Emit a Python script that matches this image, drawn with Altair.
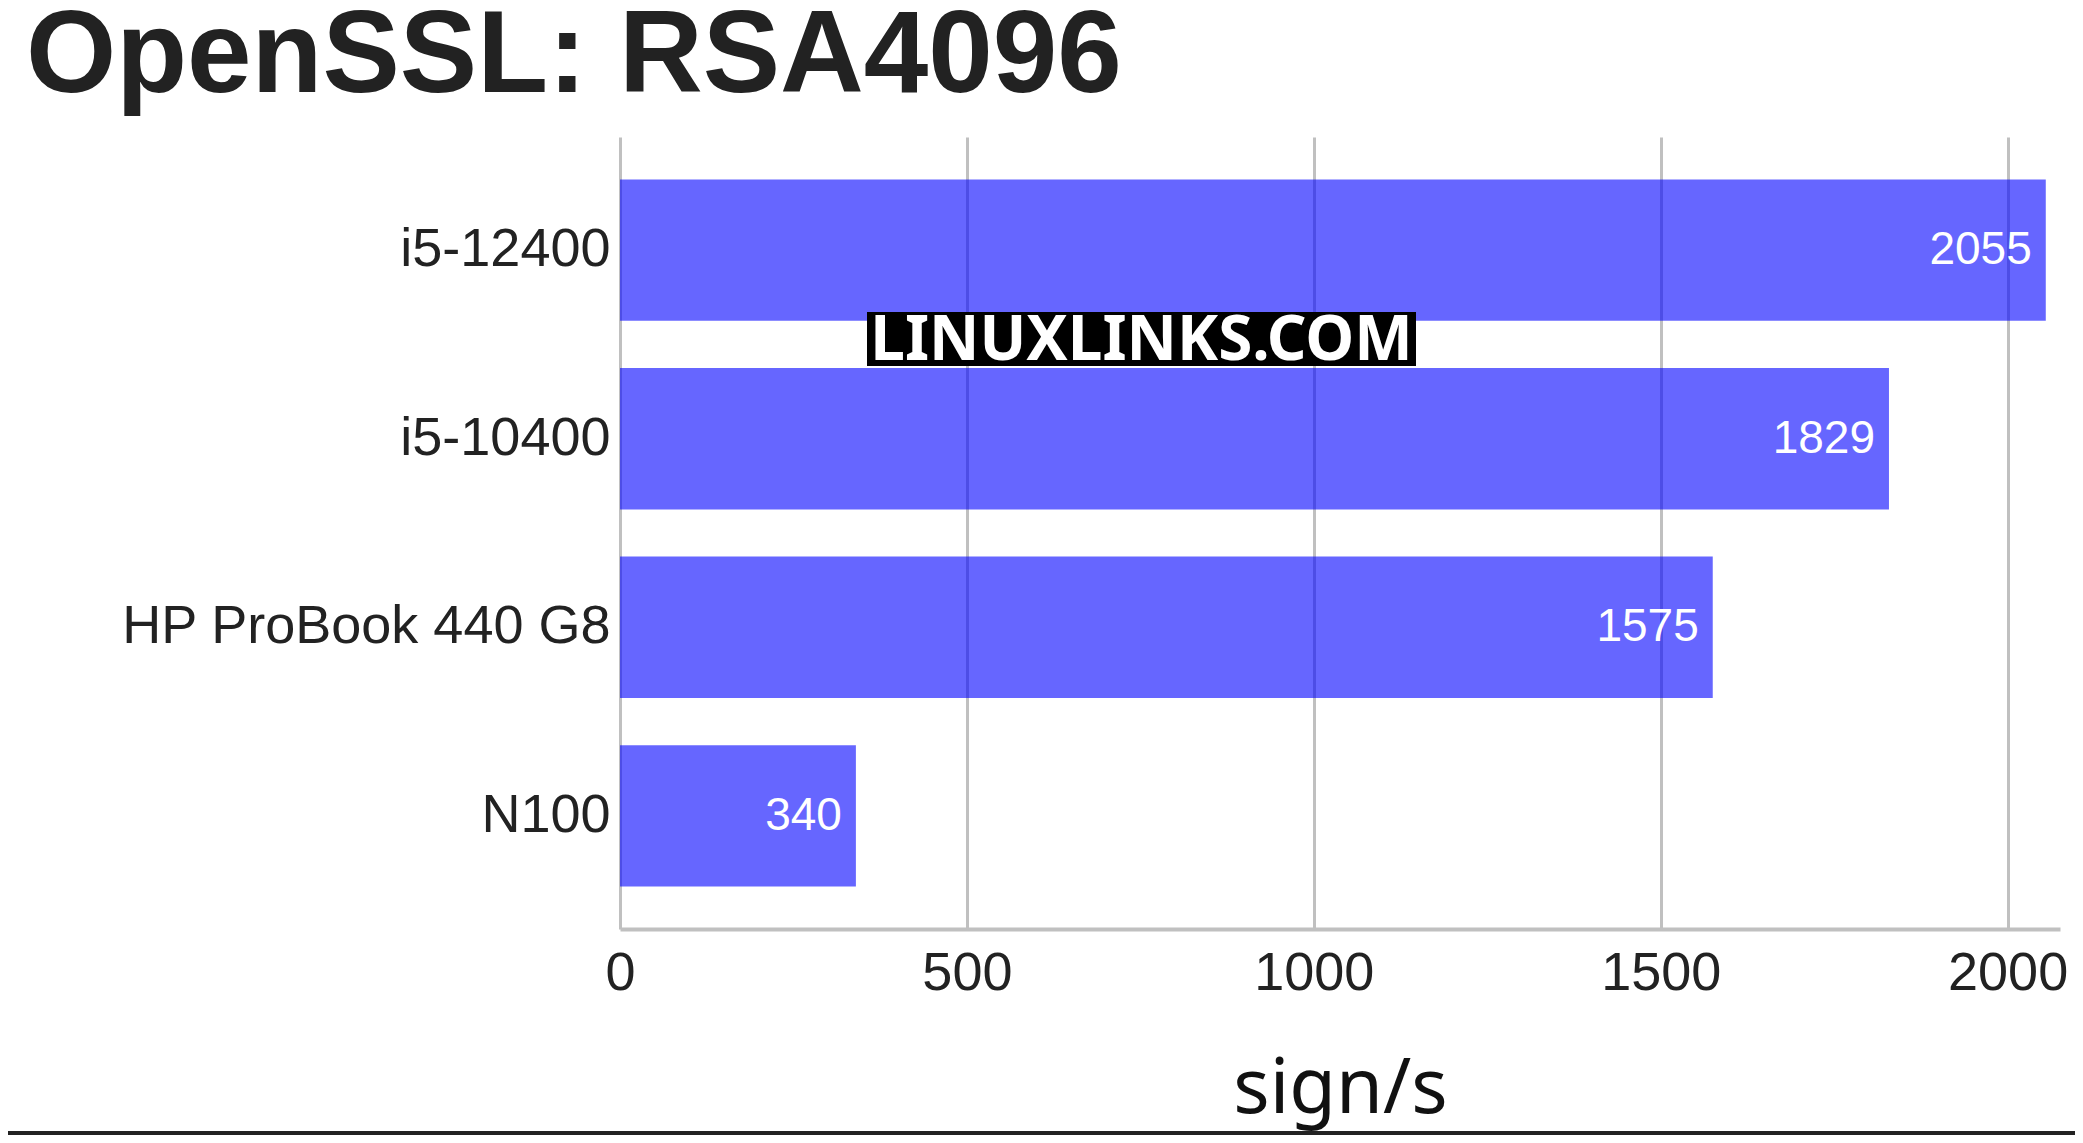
import altair as alt
import pandas as pd

# ---- data ----
processors = ["i5-12400", "i5-10400", "HP ProBook 440 G8", "N100"]
signs_per_sec = [2055, 1829, 1575, 340]
x_ticks = [0, 500, 1000, 1500, 2000]
chart_title = ["OpenSSL: RSA4096"]
x_title = "sign/s"
watermark = ["LINUXLINKS.COM"]

df = pd.DataFrame({"cpu": processors, "value": signs_per_sec})
wm = pd.DataFrame({"t": watermark})
tt = pd.DataFrame({"t": chart_title})

x_enc = alt.X(
    "value:Q",
    scale=alt.Scale(domain=[0, 2075.5], nice=False, zero=True),
    axis=alt.Axis(
        values=x_ticks,
        format="d",
        title=x_title,
        grid=True,
        gridColor="#c0c0c0",
        gridWidth=3,
        domainColor="#c0c0c0",
        domainWidth=4,
        ticks=False,
        tickSize=0,
        labelFont="Liberation Sans",
        labelFontSize=54,
        labelColor="#222222",
        labelPadding=60,
        labelBaseline="alphabetic",
        labelFlush=False,
        labelOverlap=False,
        titleFont="Noto Sans",
        titleFontSize=76,
        titleFontWeight="normal",
        titleColor="#111111",
        titleBaseline="alphabetic",
        titleY=183,
    ),
)
y_enc = alt.Y(
    "cpu:N",
    sort=None,
    scale=alt.Scale(paddingInner=0.25, paddingOuter=0.225),
    axis=alt.Axis(
        title=None,
        grid=False,
        domain=False,
        ticks=False,
        tickSize=0,
        labelFont="Liberation Sans",
        labelFontSize=54,
        labelColor="#222222",
        labelPadding=10,
        labelLimit=1000,
    ),
)

base = alt.Chart(df)
bars = base.mark_bar(color="#0000ff", opacity=0.6).encode(x=x_enc, y=y_enc)
labels = base.mark_text(
    align="right", baseline="middle", dx=-14, color="white",
    fontSize=46, font="Liberation Sans"
).encode(x="value:Q", y=alt.Y("cpu:N", sort=None), text="value:Q")

wm_box = alt.Chart(wm).mark_rect(color="black").encode(
    x=alt.value(247), x2=alt.value(796), y=alt.value(175), y2=alt.value(229)
)
wm_text = alt.Chart(wm).mark_text(
    align="center", baseline="alphabetic", color="white",
    font="Noto Sans", fontWeight="bold", fontSize=62
).encode(x=alt.value(521.5), y=alt.value(223), text="t:N")

title_text = alt.Chart(tt).mark_text(
    align="left", baseline="alphabetic", color="#222222",
    font="Liberation Sans", fontWeight="bold", fontSize=116
).encode(x=alt.value(-594), y=alt.value(-45), text="t:N")

bottom_rule = alt.Chart(wm).mark_rule(color="#222222", strokeWidth=4).encode(
    x=alt.value(-612), x2=alt.value(1455), y=alt.value(996)
)

chart = alt.layer(bars, labels, wm_box, wm_text, title_text, bottom_rule).properties(
    width=1440,
    height=792,
    autosize=alt.AutoSizeParams(type="none"),
    padding={"left": 612, "top": 129, "right": 15, "bottom": 206},
).configure(background="white").configure_view(stroke=None)

chart.save("out.html", embed_options={"renderer": "svg", "actions": False})
